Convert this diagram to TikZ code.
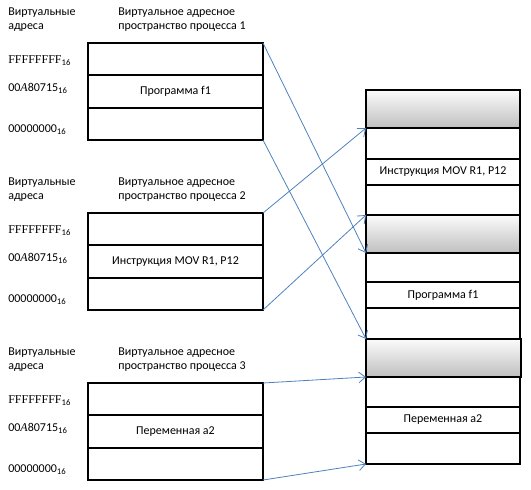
\documentclass[tikz,border=0pt]{standalone}
\usepackage{fontspec}
\setmainfont{Carlito}
\newfontfamily\hexserif{Liberation Serif}
\usetikzlibrary{arrows.meta}
\definecolor{linkblue}{RGB}{79,129,189}
\newcommand{\hexsub}[1]{#1\raisebox{-0.35ex}{\fontsize{6.5}{7}\selectfont 16}}
\tikzset{
  txt/.style={inner sep=0pt, align=left, font=\fontsize{9}{10.5}\selectfont},
  cell/.style={draw, line width=1.5pt, anchor=north west, inner sep=0pt, outer sep=0pt,
    minimum width=131.25pt, minimum height=24.25pt, font=\fontsize{9}{10.5}\selectfont},
  frame/.style={draw, line width=1.5pt, anchor=north west, inner sep=0pt, outer sep=0pt,
    minimum width=115.5pt, font=\fontsize{9}{10.5}\selectfont},
  shadecell/.style={frame, line width=1pt, top color=gray!3, bottom color=gray!50},
  link/.style={draw=linkblue, line width=0.6pt, -{Straight Barb[length=5pt,width=8pt]}}
}

\begin{document}
\begin{tikzpicture}[x=0.75pt, y=-0.75pt]
            \useasboundingbox (0,0) rectangle (531,489);
            % process 1
            \node[txt, anchor=north west] (va1) at (8,8) {Виртуальные\\адреса};
            \node[txt, anchor=north west] (vs1) at (118,8) {Виртуальное адресное\\пространство процесса 1};
            \node[txt, anchor=base west] (hi1) at (8,63) {\hexsub{{\hexserif FFFFFFFF}}};
            \node[txt, anchor=base west] (md1) at (8,91) {\hexsub{00{\hexserif\itshape A}80715}};
            \node[txt, anchor=base west] (lo1) at (8,132) {\hexsub{00000000}};
            \node[cell] (p1top) at (88,43) {};
            \node[cell] (p1mid) at (88,75.33) {Программа f1};
            \node[cell] (p1bot) at (88,107.67) {};
            % process 2
            \node[txt, anchor=north west] (va2) at (8,178) {Виртуальные\\адреса};
            \node[txt, anchor=north west] (vs2) at (118,178) {Виртуальное адресное\\пространство процесса 2};
            \node[txt, anchor=base west] (hi2) at (8,233) {\hexsub{{\hexserif FFFFFFFF}}};
            \node[txt, anchor=base west] (md2) at (8,261) {\hexsub{00{\hexserif\itshape A}80715}};
            \node[txt, anchor=base west] (lo2) at (8,302) {\hexsub{00000000}};
            \node[cell] (p2top) at (88,213) {};
            \node[cell] (p2mid) at (88,245.33) {Инструкция MOV R1, P12};
            \node[cell] (p2bot) at (88,277.67) {};
            % process 3
            \node[txt, anchor=north west] (va3) at (8,348) {Виртуальные\\адреса};
            \node[txt, anchor=north west] (vs3) at (118,348) {Виртуальное адресное\\пространство процесса 3};
            \node[txt, anchor=base west] (hi3) at (8,403) {\hexsub{{\hexserif FFFFFFFF}}};
            \node[txt, anchor=base west] (md3) at (8,431) {\hexsub{00{\hexserif\itshape A}80715}};
            \node[txt, anchor=base west] (lo3) at (8,472) {\hexsub{00000000}};
            \node[cell] (p3top) at (88,383) {};
            \node[cell] (p3mid) at (88,415.33) {Переменная a2};
            \node[cell] (p3bot) at (88,447.67) {};
            % physical memory
            \node[frame, minimum height=23.25pt] (r2) at (366,128) {};
            \node[frame, minimum height=19.5pt] (r3) at (366,159) {Инструкция MOV R1, P12};
            \node[frame, minimum height=22.5pt] (r4) at (366,185) {};
            \node[frame, minimum height=21.75pt] (r6) at (366,253) {};
            \node[frame, minimum height=19.5pt] (r7) at (366,282) {Программа f1};
            \node[frame, minimum height=23.25pt] (r8) at (366,308) {};
            \node[frame, minimum height=22.5pt] (r10) at (366,377) {};
            \node[frame, minimum height=19.5pt] (r11) at (366,407) {Переменная a2};
            \node[frame, minimum height=23.25pt] (r12) at (366,433) {};
            \node[shadecell, minimum height=28.5pt] (g1) at (366,90) {};
            \node[shadecell, minimum height=28.5pt] (g2) at (366,215) {};
            \node[shadecell, minimum height=28.5pt, minimum width=116.25pt] (g3) at (366,339) {};
            % mapping
            \draw[link] (p1top.north east) -- (g2.south west);
            \draw[link] (p1bot.south east) -- (g3.north west);
            \draw[link] (p2top.north east) -- (g1.south west);
            \draw[link] (p2bot.south east) -- (g2.north west);
            \draw[link] (p3top.north east) -- (g3.south west);
            \draw[link] (p3bot.south east) -- (r12.south west);
\end{tikzpicture}
\end{document}
